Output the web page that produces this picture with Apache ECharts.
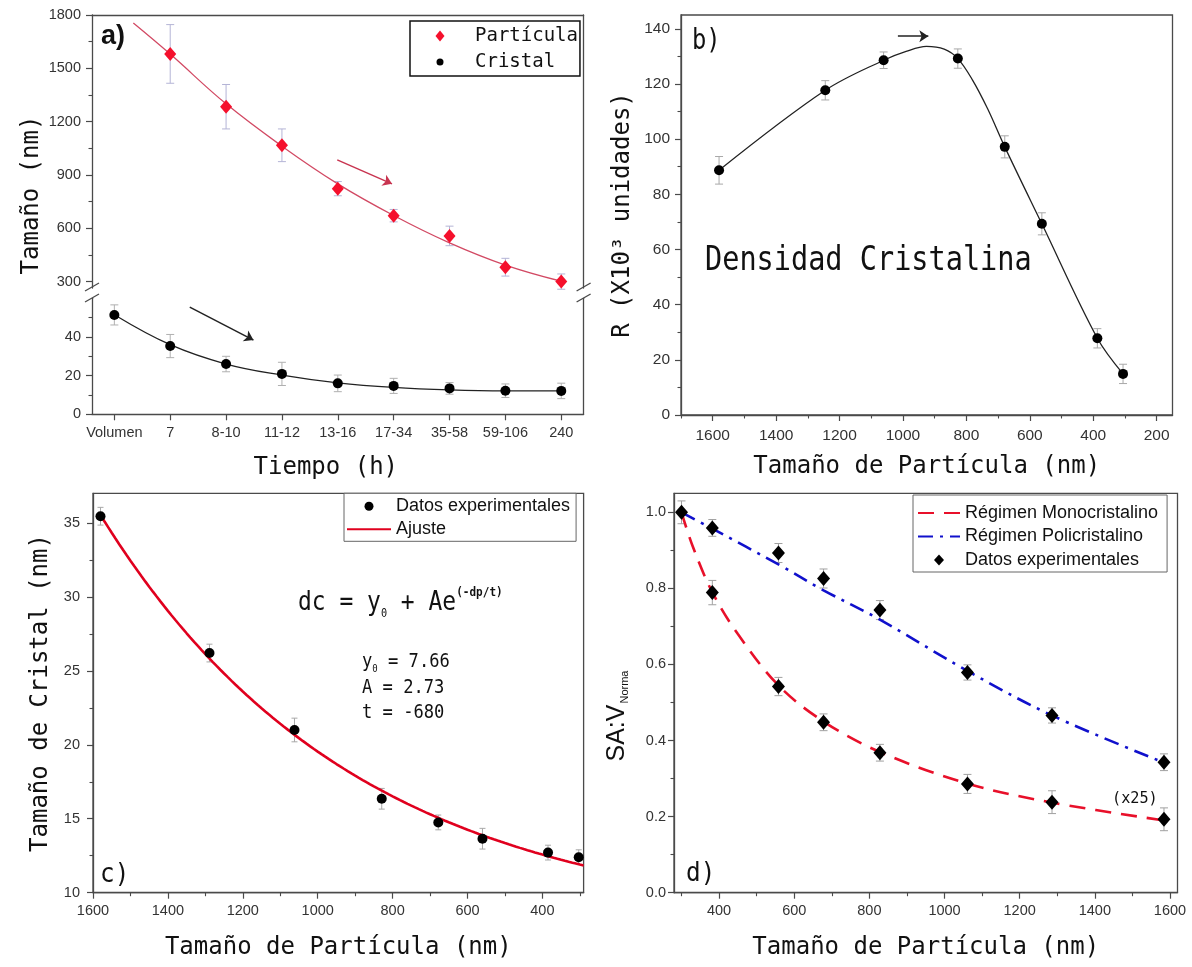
<!DOCTYPE html>
<html>
<head>
<meta charset="utf-8">
<script src="https://cdn.jsdelivr.net/npm/echarts@6/dist/echarts.min.js"></script>
<style>
  html, body { margin: 0; padding: 0; background: #fff; }
  #chart { width: 1192px; height: 967px; }
</style>
</head>
<body>
<div id="chart"></div>
<script>
// ---------- a) size vs. time ----------
const tiempoLabels = ['Volumen', '7', '8-10', '11-12', '13-16', '17-34', '35-58', '59-106', '240'];
const particulaPos = [1, 2, 3, 4, 5, 6, 7, 8];
const particulaNm = [1581, 1284, 1067, 823, 671, 557, 381, 300];
const particulaErr = [165, 125, 92, 40, 35, 55, 50, 43];
const particulaAjuste = [[0.34, 1755], [1, 1580], [2, 1300], [3, 1062], [4, 850], [5, 672], [6, 518], [7, 393], [8, 302]];
const cristalPos = [0, 1, 2, 3, 4, 5, 6, 7, 8];
const cristalNm = [51.4, 35.3, 26.0, 20.9, 16.0, 14.7, 13.4, 12.2, 12.1];
const cristalErr = [5.2, 6, 4, 6, 4.3, 3.9, 3, 3.5, 4];
const cristalAjuste = [[0, 51.5], [1, 36], [2, 26], [3, 20.3], [4, 16.3], [5, 13.9], [6, 12.6], [7, 12.1], [8, 12.1]];

// ---------- b) crystalline density ----------
const densidadNm = [1580, 1245, 1061, 827, 679, 562, 387, 306];
const densidadR = [88.7, 117.7, 128.6, 129.2, 97.2, 69.3, 27.8, 14.9];
const densidadErr = [5, 3.5, 3, 3.5, 4, 4, 3.5, 3.5];
const densidadCurva = [[1580, 88.7], [1245, 117.7], [1061, 128.6], [990, 131.8], [926, 133.6], [870, 132.6],
  [827, 129.2], [781, 121.5], [733, 111], [679, 97.2], [562, 69.3], [387, 27.8], [306, 14.9]];

// ---------- c) crystal size vs particle size ----------
const tamCNm = [1580, 1289, 1062, 829, 678, 560, 385, 303];
const tamCristal = [35.45, 26.2, 21.0, 16.35, 14.75, 13.65, 12.71, 12.4];
const tamCristalErr = [0.6, 0.6, 0.8, 0.7, 0.5, 0.7, 0.5, 0.5];
// fitted model dc = y0 + A*exp(-dp/t)
const ajusteY0 = 7.66;
const ajusteA = 2.73;
const ajusteT = -680;

// ---------- d) SA:V normalised ----------
const monoNm = [300, 382, 558, 678, 828, 1061, 1286, 1584];
const monoSAV = [1.0, 0.789, 0.542, 0.448, 0.368, 0.286, 0.238, 0.193];
const monoErr = [0.03, 0.032, 0.024, 0.022, 0.022, 0.025, 0.03, 0.03];
const poliNm = [382, 558, 678, 828, 1061, 1286, 1584];
const poliSAV = [0.959, 0.893, 0.826, 0.743, 0.579, 0.466, 0.343];
const poliErr = [0.022, 0.025, 0.025, 0.025, 0.02, 0.02, 0.022];
const monoCurva = [[300, 1.0], [330, 0.91], [382, 0.79], [450, 0.68], [558, 0.545], [678, 0.45], [828, 0.37], [1061, 0.287], [1286, 0.237], [1584, 0.19]];
const poliCurva = [[300, 1.0], [382, 0.957], [558, 0.863], [678, 0.795], [828, 0.718], [1061, 0.583], [1286, 0.466], [1584, 0.342]];

// ---------- styling ----------
const AXIS = '#4a4a4a';
const SANS = "'Liberation Sans', Arial, sans-serif";
const MONO = "'DejaVu Sans Mono', monospace";
const TITLE = { fontFamily: MONO, fontSize: 24, color: '#111' };

const xAxes = [];
const yAxes = [];

// main axis (line, labels, major ticks) + optional minor-tick overlay; returns the main index
function addAxis(list, grid, c) {
  const common = { type: 'value', gridIndex: grid, min: c.min, max: c.max, inverse: !!c.inverse, position: c.position };
  list.push(Object.assign({}, common, {
    axisLine: { show: true, onZero: false, lineStyle: { color: AXIS, width: 1.3 } },
    axisTick: c.major ? { show: true, customValues: c.major, length: 6, lineStyle: { color: AXIS, width: 1.2 } } : { show: false },
    axisLabel: c.major ? {
      show: true, customValues: c.major, formatter: c.fmt || (v => String(v)), color: '#333',
      fontFamily: SANS, fontSize: c.labelSize || 14.5, margin: c.margin || 10
    } : { show: false },
    splitLine: { show: false },
    name: c.name || '', nameLocation: 'middle', nameGap: c.nameGap || 30,
    nameTextStyle: c.nameStyle || TITLE
  }));
  const idx = list.length - 1;
  if (c.minor) {
    list.push(Object.assign({}, common, {
      axisLine: { show: false, onZero: false },
      axisTick: { show: true, customValues: c.minor, length: 3.5, lineStyle: { color: AXIS, width: 1.1 } },
      axisLabel: { show: false },
      splitLine: { show: false }
    }));
  }
  return idx;
}

// a) upper segment (particle)
const axUx = addAxis(xAxes, 0, { min: -0.4, max: 8.4, position: 'top' });
const axUy = addAxis(yAxes, 0, {
  min: 264, max: 1800, position: 'left', major: [300, 600, 900, 1200, 1500, 1800],
  minor: [450, 750, 1050, 1350, 1650], margin: 11
});
addAxis(yAxes, 0, { min: 264, max: 1800, position: 'right' });
// a) lower segment (crystal)
const axLx = addAxis(xAxes, 1, {
  min: -0.4, max: 8.4, position: 'bottom', major: cristalPos,
  fmt: v => tiempoLabels[Math.round(v)], margin: 11,
  name: 'Tiempo (h)', nameGap: 41, nameStyle: Object.assign({ padding: [0, 24, 0, 0] }, TITLE)
});
const axLy = addAxis(yAxes, 1, { min: 0, max: 60, position: 'left', major: [0, 20, 40], minor: [10, 30, 50], margin: 11 });
addAxis(yAxes, 1, { min: 0, max: 60, position: 'right' });

// b)
const axBx = addAxis(xAxes, 2, {
  min: 150, max: 1700, inverse: true, position: 'bottom',
  major: [200, 400, 600, 800, 1000, 1200, 1400, 1600], minor: [300, 500, 700, 900, 1100, 1300, 1500, 1700],
  labelSize: 15.5, margin: 13, name: 'Tamaño de Partícula (nm)', nameGap: 40
});
const axBy = addAxis(yAxes, 2, {
  min: 0, max: 145, position: 'left', major: [0, 20, 40, 60, 80, 100, 120, 140],
  minor: [10, 30, 50, 70, 90, 110, 130], labelSize: 15.5, margin: 11,
  name: 'R (X10³ unidades)', nameGap: 46
});

// c)
const axCx = addAxis(xAxes, 3, {
  min: 290, max: 1600, inverse: true, position: 'bottom',
  major: [400, 600, 800, 1000, 1200, 1400, 1600], minor: [300, 500, 700, 900, 1100, 1300, 1500],
  margin: 11, name: 'Tamaño de Partícula (nm)', nameGap: 43
});
const axCy = addAxis(yAxes, 3, {
  min: 10, max: 37, position: 'left', major: [10, 15, 20, 25, 30, 35],
  minor: [12.5, 17.5, 22.5, 27.5, 32.5], margin: 13,
  name: 'Tamaño de Cristal (nm)', nameGap: 40
});

// d)
const axDx = addAxis(xAxes, 4, {
  min: 280, max: 1620, position: 'bottom',
  major: [400, 600, 800, 1000, 1200, 1400, 1600], minor: [300, 500, 700, 900, 1100, 1300, 1500],
  margin: 11, name: 'Tamaño de Partícula (nm)', nameGap: 43
});
const axDy = addAxis(yAxes, 4, {
  min: 0, max: 1.05, position: 'left', major: [0, 0.2, 0.4, 0.6, 0.8, 1.0],
  minor: [0.1, 0.3, 0.5, 0.7, 0.9], fmt: v => v.toFixed(1), margin: 8,
  name: '{m|SA:V}{s|Norma}', nameGap: 44,
  nameStyle: {
    padding: [0, 46, 0, 0],
    rich: {
      m: { fontFamily: SANS, fontSize: 25, color: '#111' },
      s: { fontFamily: SANS, fontSize: 11, color: '#111', verticalAlign: 'bottom', padding: [8, 0, 0, 1] }
    }
  }
});

// vertical error bars drawn through the axes' scales
function errorBars(name, xs, ys, errs, xi, yi, color, cap) {
  return {
    type: 'custom', name: name, xAxisIndex: xi, yAxisIndex: yi, z: 2, silent: true,
    data: xs.map((x, i) => [x, ys[i] - errs[i], ys[i] + errs[i]]),
    encode: { x: 0, y: [1, 2] },
    renderItem(params, api) {
      const lo = api.coord([api.value(0), api.value(1)]);
      const hi = api.coord([api.value(0), api.value(2)]);
      const st = { stroke: color, lineWidth: 1 };
      return {
        type: 'group', children: [
          { type: 'line', shape: { x1: lo[0], y1: lo[1], x2: hi[0], y2: hi[1] }, style: st },
          { type: 'line', shape: { x1: lo[0] - cap, y1: lo[1], x2: lo[0] + cap, y2: lo[1] }, style: st },
          { type: 'line', shape: { x1: hi[0] - cap, y1: hi[1], x2: hi[0] + cap, y2: hi[1] }, style: st }
        ]
      };
    }
  };
}

function pairs(xs, ys) { return xs.map((x, i) => [x, ys[i]]); }

function arrow(color, from, to) {
  return {
    silent: true, symbol: ['none', 'arrow'], symbolSize: 9,
    lineStyle: { color: color, width: 1.5, type: 'solid' },
    label: { show: false }, emphasis: { disabled: true },
    data: [[{ coord: from }, { coord: to }]]
  };
}

// fitted curve of panel c from its stated parameters
const ajusteCurva = [];
for (let dp = 1580; dp >= 290; dp -= 10) {
  ajusteCurva.push([dp, ajusteY0 + ajusteA * Math.exp(-dp / ajusteT)]);
}

const solid = c => ({ color: c, opacity: 1 });

const series = [
  // a) particle
  errorBars('err-particula', particulaPos, particulaNm, particulaErr, axUx, axUy, '#b4b4d6', 4),
  {
    type: 'line', name: 'curva-particula', xAxisIndex: axUx, yAxisIndex: axUy, smooth: 0.4, symbol: 'none',
    lineStyle: { color: '#d24a64', width: 1.3 }, z: 3, silent: true,
    data: particulaAjuste,
    markLine: arrow('#c83450', [3.99, 985], [4.97, 850])
  },
  {
    type: 'scatter', name: 'Partícula', xAxisIndex: axUx, yAxisIndex: axUy, symbol: 'diamond',
    symbolSize: [12, 14], itemStyle: solid('#f5102c'), z: 4, data: pairs(particulaPos, particulaNm)
  },
  // a) crystal
  errorBars('err-cristal', cristalPos, cristalNm, cristalErr, axLx, axLy, '#b0b0b0', 4),
  {
    type: 'line', name: 'curva-cristal', xAxisIndex: axLx, yAxisIndex: axLy, smooth: 0.4, symbol: 'none',
    lineStyle: { color: '#222', width: 1.3 }, z: 3, silent: true,
    data: cristalAjuste,
    markLine: arrow('#222', [1.35, 55.4], [2.49, 38.4])
  },
  {
    type: 'scatter', name: 'Cristal', xAxisIndex: axLx, yAxisIndex: axLy, symbol: 'circle',
    symbolSize: 10, itemStyle: solid('#000'), z: 4, data: pairs(cristalPos, cristalNm)
  },
  // b)
  errorBars('err-densidad', densidadNm, densidadR, densidadErr, axBx, axBy, '#a8a8a8', 4),
  {
    type: 'line', name: 'curva-densidad', xAxisIndex: axBx, yAxisIndex: axBy, smooth: 0.35, symbol: 'none',
    lineStyle: { color: '#222', width: 1.3 }, z: 3, silent: true,
    data: densidadCurva,
    markLine: arrow('#222', [1016, 137.3], [920, 137.3])
  },
  {
    type: 'scatter', name: 'Densidad', xAxisIndex: axBx, yAxisIndex: axBy, symbol: 'circle',
    symbolSize: 10, itemStyle: solid('#000'), z: 4, data: pairs(densidadNm, densidadR)
  },
  // c)
  errorBars('err-tamano', tamCNm, tamCristal, tamCristalErr, axCx, axCy, '#a8a8a8', 3),
  {
    type: 'line', name: 'Ajuste', xAxisIndex: axCx, yAxisIndex: axCy, symbol: 'none', smooth: false,
    lineStyle: { color: '#e0001e', width: 2.6 }, itemStyle: { color: '#e0001e' }, z: 3, data: ajusteCurva
  },
  {
    type: 'scatter', name: 'Datos experimentales', xAxisIndex: axCx, yAxisIndex: axCy, symbol: 'circle',
    symbolSize: 10, itemStyle: solid('#000'), z: 4, data: pairs(tamCNm, tamCristal)
  },
  // d)
  errorBars('err-mono', monoNm, monoSAV, monoErr, axDx, axDy, '#a0a0a0', 4),
  errorBars('err-poli', poliNm, poliSAV, poliErr, axDx, axDy, '#a0a0a0', 4),
  {
    type: 'line', name: 'Régimen Monocristalino', xAxisIndex: axDx, yAxisIndex: axDy, symbol: 'none', smooth: 0.35,
    lineStyle: { color: '#e8102a', width: 2.6, type: [16, 10] }, itemStyle: { color: '#e8102a' }, z: 3, data: monoCurva
  },
  {
    type: 'line', name: 'Régimen Policristalino', xAxisIndex: axDx, yAxisIndex: axDy, symbol: 'none', smooth: 0.35,
    lineStyle: { color: '#1010cc', width: 2.6, type: [15, 7, 3, 7] }, itemStyle: { color: '#1010cc' }, z: 3, data: poliCurva
  },
  {
    type: 'scatter', name: 'Datos experimentales', xAxisIndex: axDx, yAxisIndex: axDy, symbol: 'diamond',
    symbolSize: [13, 15], itemStyle: solid('#000'), z: 4,
    data: pairs(monoNm, monoSAV).concat(pairs(poliNm, poliSAV))
  }
];

const iconDiamondA = 'path://M0,0M36,12M6,0.5L10.5,6L6,11.5L1.5,6Z';
const iconDotA = 'path://M0,0M36,12M9.5,6A3.5,3.5,0,1,1,2.5,6A3.5,3.5,0,1,1,9.5,6Z';
const iconDiamondD = 'path://M0,0M42,12M21,0.5L26,6L21,11.5L16,6Z';
// line-only legend keys (hide the marker the line icon carries)
const lineKey = name => ({ name: name, itemStyle: { opacity: 0 } });

const legends = [
  {
    left: 410, top: 21, orient: 'vertical', padding: [4, 2, 3, 24], itemGap: 4,
    itemWidth: 36, itemHeight: 12, borderColor: '#111', borderWidth: 1.5, backgroundColor: '#fff',
    selectedMode: false,
    data: [{ name: 'Partícula', icon: iconDiamondA }, { name: 'Cristal', icon: iconDotA }],
    textStyle: { fontFamily: MONO, fontSize: 19, color: '#111', lineHeight: 22 }
  },
  {
    left: 344, top: 493.3, orient: 'vertical', padding: [4, 6, 3, 2], itemGap: 5,
    itemWidth: 44, itemHeight: 9, borderColor: '#666', borderWidth: 1, backgroundColor: '#fff',
    selectedMode: false,
    data: [{ name: 'Datos experimentales', icon: 'circle' }, lineKey('Ajuste')],
    textStyle: { fontFamily: SANS, fontSize: 18, color: '#111', lineHeight: 18 }
  },
  {
    left: 913, top: 495, orient: 'vertical', padding: [9, 9, 3, 4], itemGap: 5.5,
    itemWidth: 42, itemHeight: 12, borderColor: '#666', borderWidth: 1, backgroundColor: '#fff',
    selectedMode: false,
    data: [lineKey('Régimen Monocristalino'), lineKey('Régimen Policristalino'),
      { name: 'Datos experimentales', icon: iconDiamondD }],
    textStyle: { fontFamily: SANS, fontSize: 18, color: '#111', lineHeight: 18 }
  }
];

function txt(x, y, text, style, extra) {
  return Object.assign({
    type: 'text', x: x, y: y, silent: true, z: 50,
    style: Object.assign({ text: text, fill: '#111', align: 'left', verticalAlign: 'middle',
      textAlign: 'left', textVerticalAlign: 'middle' }, style)
  }, extra || {});
}
function brk(x, y) {
  return { type: 'line', silent: true, z: 50, shape: { x1: x - 7, y1: y + 4, x2: x + 7, y2: y - 4 },
    style: { stroke: AXIS, lineWidth: 1.3 } };
}

const graphics = [
  // axis break marks of panel a
  brk(92, 287), brk(92, 298), brk(583.6, 287), brk(583.6, 298),
  txt(32, 195, 'Tamaño (nm)', { fontFamily: MONO, fontSize: 24, align: 'center', textAlign: 'center' }, { rotation: Math.PI / 2 }),
  txt(101, 37, 'a)', { fontFamily: SANS, fontSize: 27, fontWeight: 'bold' }),
  txt(692, 42, 'b)', { fontFamily: MONO, fontSize: 28 }, { scaleX: 0.85 }),
  txt(100, 875, 'c)', { fontFamily: MONO, fontSize: 27 }, { scaleX: 0.9 }),
  txt(686, 874, 'd)', { fontFamily: MONO, fontSize: 27 }, { scaleX: 0.9 }),
  txt(705, 261, 'Densidad Cristalina', { fontFamily: MONO, fontSize: 34 }, { scaleX: 0.84 }),
  txt(298, 603, '{m|dc = y}{s|0}{m| + Ae}{p|(-dp/t)}', {
    rich: {
      m: { fontFamily: MONO, fontSize: 27, fill: '#111', lineHeight: 34 },
      s: { fontFamily: MONO, fontSize: 12, fill: '#111', verticalAlign: 'bottom', lineHeight: 34 },
      p: { fontFamily: MONO, fontSize: 13, fontWeight: 'bold', fill: '#111', verticalAlign: 'top', lineHeight: 34 }
    }
  }, { scaleX: 0.85 }),
  txt(362, 662, '{m|y}{s|0}{m| = 7.66}', {
    rich: {
      m: { fontFamily: MONO, fontSize: 19, fill: '#111', lineHeight: 24 },
      s: { fontFamily: MONO, fontSize: 10, fill: '#111', verticalAlign: 'bottom', lineHeight: 24 }
    }
  }, { scaleX: 0.9 }),
  txt(362, 688, 'A = 2.73', { fontFamily: MONO, fontSize: 19 }, { scaleX: 0.9 }),
  txt(362, 713, 't = -680', { fontFamily: MONO, fontSize: 19 }, { scaleX: 0.9 }),
  txt(1112, 799, '(x25)', { fontFamily: MONO, fontSize: 16 }, { scaleX: 0.95 })
];

const gridBase = { containLabel: false, outerBoundsMode: 'none', borderColor: AXIS, borderWidth: 1.3 };
const option = {
  animation: false,
  backgroundColor: '#fff',
  grid: [
    Object.assign({}, gridBase, { left: 92, top: 15, width: 491.6, height: 273, show: false }),
    Object.assign({}, gridBase, { left: 92, top: 298.3, width: 491.6, height: 116, show: false }),
    Object.assign({}, gridBase, { left: 681, top: 15, width: 491.5, height: 400, show: true }),
    Object.assign({}, gridBase, { left: 93, top: 493.3, width: 490.6, height: 399.4, show: true }),
    Object.assign({}, gridBase, { left: 674, top: 493.3, width: 503.5, height: 399.4, show: true })
  ],
  xAxis: xAxes,
  yAxis: yAxes,
  legend: legends,
  series: series,
  graphic: graphics
};

const chart = echarts.init(document.getElementById('chart'), null, { renderer: 'canvas' });
chart.setOption(option);
</script>
</body>
</html>
